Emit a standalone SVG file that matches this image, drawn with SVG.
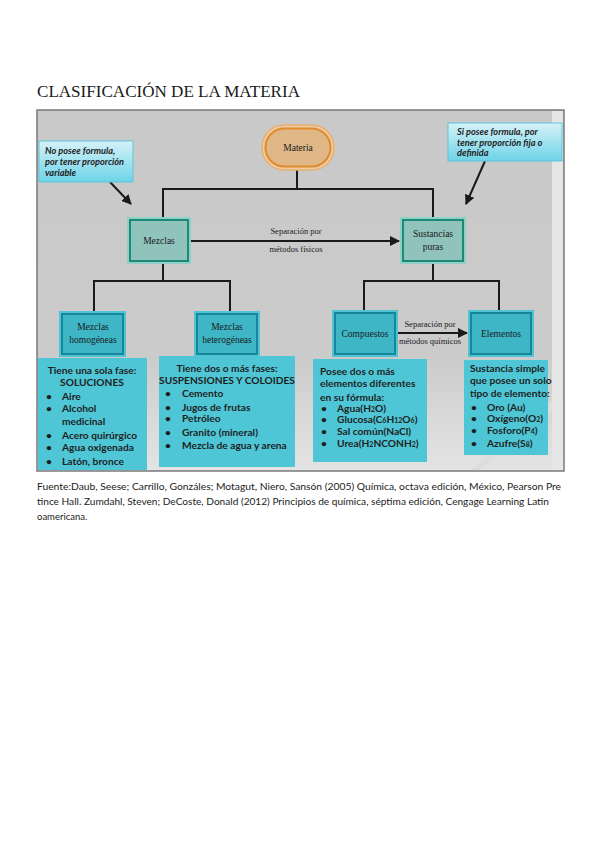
<svg xmlns="http://www.w3.org/2000/svg" width="599" height="848" viewBox="0 0 599 848">
<defs>
<style>
.title{font-family:"Liberation Serif",serif;font-size:16px;fill:#1a1a1a}
.ser{font-family:"Liberation Serif",serif;font-size:9.5px;fill:#1a1a1a}
.lbl{font-family:"Liberation Serif",serif;font-size:8.5px;fill:#1a1a1a}
.b{font-family:Lato,"Open Sans",sans-serif;font-weight:bold;font-size:10.2px;fill:#1e1e1e}
.call{font-family:Lato,"Open Sans",sans-serif;font-weight:bold;font-style:italic;font-size:9.2px;fill:#222}
.foot{font-family:Lato,"Open Sans",sans-serif;font-size:9.5px;fill:#222}
.ln{stroke:#1a1a1a;stroke-width:2;fill:none}
.cyan{fill:#4fc6d6}
.sub{font-size:7px}
</style>
<linearGradient id="bg" x1="0" y1="0" x2="0" y2="1">
<stop offset="0" stop-color="#c9c9c9"/>
<stop offset="0.68" stop-color="#cbcbcb"/>
<stop offset="1" stop-color="#e4e4e4"/>
</linearGradient>
<linearGradient id="callg" x1="0" y1="0" x2="0" y2="1">
<stop offset="0" stop-color="#d6f2f8"/>
<stop offset="1" stop-color="#6dd3e8"/>
</linearGradient>
<marker id="ah" viewBox="0 0 10 10" refX="9" refY="5" markerWidth="5" markerHeight="5" orient="auto">
<path d="M0,0 L10,5 L0,10 z" fill="#1a1a1a"/>
</marker>
</defs>
<rect width="599" height="848" fill="#ffffff"/>
<text class="title" x="37" y="97" textLength="263" lengthAdjust="spacingAndGlyphs">CLASIFICACIÓN DE LA MATERIA</text>

<g id="frame">
<rect x="37" y="110" width="527" height="361" fill="url(#bg)" stroke="#7a7a7a" stroke-width="1.5"/>
<rect x="552" y="111" width="11" height="359" fill="#e6e6e6"/>
<path d="M470,470 L552,400 L552,410 L480,470 z" fill="#dedede"/>
</g>

<g id="connectors">
<line class="ln" x1="297" y1="169" x2="297" y2="189"/>
<polyline class="ln" points="163,218 163,189 433,189 433,218"/>
<line class="ln" x1="191" y1="241" x2="399" y2="241" marker-end="url(#ah)"/>
<line class="ln" x1="163" y1="264" x2="163" y2="281"/>
<polyline class="ln" points="94,311 94,281 230,281 230,311"/>
<line class="ln" x1="433" y1="264" x2="433" y2="281"/>
<polyline class="ln" points="364,310 364,281 499,281 499,310"/>
<line class="ln" x1="398" y1="333" x2="467" y2="333" marker-end="url(#ah)"/>
<line class="ln" x1="110" y1="182" x2="131" y2="204" marker-end="url(#ah)"/>
<line class="ln" x1="485" y1="161" x2="466" y2="204" marker-end="url(#ah)"/>
<text class="lbl" x="296" y="234" text-anchor="middle">Separación por</text>
<text class="lbl" x="296" y="252" text-anchor="middle">métodos físicos</text>
<text class="lbl" x="430" y="327" text-anchor="middle">Separación por</text>
<text class="lbl" x="430" y="344" text-anchor="middle">métodos químicos</text>
</g>

<g id="materia">
<rect x="262" y="125" width="72" height="45" rx="22" fill="#eccba4" stroke="#e8b070" stroke-width="1.5"/>
<rect x="265.5" y="128.5" width="65" height="38" rx="19" fill="#e0b887" stroke="#e08a2a" stroke-width="2"/>
<text class="ser" x="298" y="151" text-anchor="middle">Materia</text>
</g>

<g id="mezclas">
<rect x="127" y="217" width="64" height="47" fill="#8fd0c6"/>
<rect x="130" y="220" width="58" height="41" fill="#8fc3bc" stroke="#1b8a78" stroke-width="2"/>
<text class="ser" x="159" y="244" text-anchor="middle">Mezclas</text>
</g>

<g id="sustancias">
<rect x="400" y="217" width="66" height="47" fill="#8fd0c6"/>
<rect x="403" y="220" width="60" height="41" fill="#8fc3bc" stroke="#1b8a78" stroke-width="2"/>
<text class="ser" x="433" y="237" text-anchor="middle">Sustancias</text>
<text class="ser" x="433" y="250" text-anchor="middle">puras</text>
</g>

<g id="homogeneas">
<rect x="59" y="311" width="67" height="46" fill="#50c4d2"/>
<rect x="62" y="314" width="61" height="40" fill="#3fb6c6" stroke="#16879a" stroke-width="2"/>
<text class="ser" x="93" y="330" text-anchor="middle">Mezclas</text>
<text class="ser" x="93" y="343" text-anchor="middle">homogéneas</text>
</g>

<g id="heterogeneas">
<rect x="194" y="311" width="66" height="46" fill="#50c4d2"/>
<rect x="197" y="314" width="60" height="40" fill="#3fb6c6" stroke="#16879a" stroke-width="2"/>
<text class="ser" x="227" y="330" text-anchor="middle">Mezclas</text>
<text class="ser" x="227" y="343" text-anchor="middle">heterogéneas</text>
</g>

<g id="compuestos">
<rect x="332" y="310" width="66" height="47" fill="#50c4d2"/>
<rect x="335" y="313" width="60" height="41" fill="#3fb6c6" stroke="#16879a" stroke-width="2"/>
<text class="ser" x="365" y="337" text-anchor="middle">Compuestos</text>
</g>

<g id="elementos">
<rect x="468" y="310" width="66" height="47" fill="#50c4d2"/>
<rect x="471" y="313" width="60" height="41" fill="#3fb6c6" stroke="#16879a" stroke-width="2"/>
<text class="ser" x="501" y="337" text-anchor="middle">Elementos</text>
</g>

<g id="nota-izq">
<rect x="39" y="141" width="94" height="41" fill="url(#callg)" stroke="#5cc6dc" stroke-width="1"/>
<text class="call" x="45" y="154">No posee formula,</text>
<text class="call" x="45" y="165">por tener proporción</text>
<text class="call" x="45" y="176">variable</text>
</g>

<g id="nota-der">
<rect x="448" y="123" width="114" height="38" fill="url(#callg)" stroke="#5cc6dc" stroke-width="1"/>
<text class="call" x="457" y="135">Si posee formula, por</text>
<text class="call" x="457" y="145.5">tener proporción fija o</text>
<text class="call" x="457" y="156">definida</text>
</g>

<g id="soluciones">
<rect class="cyan" x="38" y="358" width="109" height="112"/>
<text class="b" x="92" y="374" text-anchor="middle">Tiene una sola fase:</text>
<text class="b" x="92" y="386" text-anchor="middle">SOLUCIONES</text>
<text class="b" x="46" y="400">•</text><text class="b" x="62" y="400">Aire</text>
<text class="b" x="46" y="412">•</text><text class="b" x="62" y="412">Alcohol</text>
<text class="b" x="62" y="425">medicinal</text>
<text class="b" x="46" y="439">•</text><text class="b" x="62" y="439">Acero quirúrgico</text>
<text class="b" x="46" y="451">•</text><text class="b" x="62" y="451">Agua oxigenada</text>
<text class="b" x="46" y="465">•</text><text class="b" x="62" y="465">Latón, bronce</text>
</g>

<g id="suspensiones">
<rect class="cyan" x="159" y="356" width="136" height="111"/>
<text class="b" x="227" y="372" text-anchor="middle">Tiene dos o más fases:</text>
<text class="b" x="227" y="384" text-anchor="middle">SUSPENSIONES Y COLOIDES</text>
<text class="b" x="165" y="397">•</text><text class="b" x="182" y="397">Cemento</text>
<text class="b" x="165" y="411">•</text><text class="b" x="182" y="411">Jugos de frutas</text>
<text class="b" x="165" y="422">•</text><text class="b" x="182" y="422">Petróleo</text>
<text class="b" x="165" y="436">•</text><text class="b" x="182" y="436">Granito (mineral)</text>
<text class="b" x="165" y="449">•</text><text class="b" x="182" y="449">Mezcla de agua y arena</text>
</g>

<g id="compuestos-info">
<rect class="cyan" x="313" y="359" width="114" height="103"/>
<text class="b" x="320" y="375">Posee dos o más</text>
<text class="b" x="320" y="387">elementos diferentes</text>
<text class="b" x="320" y="401">en su fórmula:</text>
<text class="b" x="321" y="412">•</text><text class="b" x="337" y="412">Agua(H<tspan class="sub">2</tspan>O)</text>
<text class="b" x="321" y="423">•</text><text class="b" x="337" y="423">Glucosa(C<tspan class="sub">6</tspan>H<tspan class="sub">12</tspan>O<tspan class="sub">6</tspan>)</text>
<text class="b" x="321" y="435">•</text><text class="b" x="337" y="435">Sal común(NaCl)</text>
<text class="b" x="321" y="447">•</text><text class="b" x="337" y="447">Urea(H<tspan class="sub">2</tspan>NCONH<tspan class="sub">2</tspan>)</text>
</g>

<g id="elementos-info">
<rect class="cyan" x="464" y="360" width="84" height="95"/>
<text class="b" x="470" y="372">Sustancia simple</text>
<text class="b" x="470" y="384">que posee un solo</text>
<text class="b" x="470" y="397">tipo de elemento:</text>
<text class="b" x="471" y="411">•</text><text class="b" x="487" y="411">Oro (Au)</text>
<text class="b" x="471" y="422">•</text><text class="b" x="487" y="422">Oxígeno(O<tspan class="sub">2</tspan>)</text>
<text class="b" x="471" y="434">•</text><text class="b" x="487" y="434">Fosforo(P<tspan class="sub">4</tspan>)</text>
<text class="b" x="471" y="447">•</text><text class="b" x="487" y="447">Azufre(S<tspan class="sub">8</tspan>)</text>
</g>

<g id="fuente">
<text class="foot" x="37" y="490" textLength="524" lengthAdjust="spacingAndGlyphs">Fuente:Daub, Seese; Carrillo, Gonzáles; Motagut, Niero, Sansón (2005) Química, octava edición, México, Pearson Pre</text>
<text class="foot" x="37" y="505" textLength="512" lengthAdjust="spacingAndGlyphs">tince Hall.  Zumdahl, Steven; DeCoste, Donald (2012) Principios de química, séptima edición, Cengage Learning Latin</text>
<text class="foot" x="37" y="520">oamericana.</text>
</g>
</svg>
